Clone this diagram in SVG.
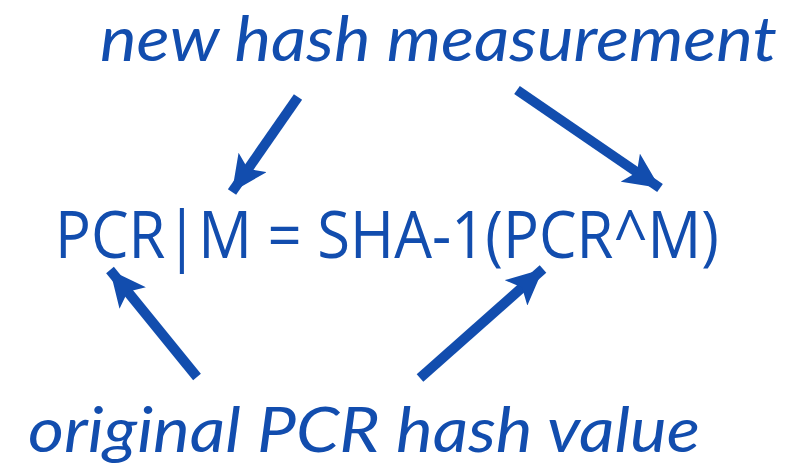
<svg xmlns="http://www.w3.org/2000/svg" width="796" height="468" viewBox="0 0 796 468">
<style>
text{font-family:Lato,"Open Sans",sans-serif;fill:#124dae}
.lbl{font-style:italic;font-size:62px}
.eq{font-family:"Open Sans",sans-serif;font-size:66px}
.arr{stroke:#124dae;stroke-width:10;fill:none}
</style>
<defs>
<marker id="ah" markerUnits="userSpaceOnUse" markerWidth="40" markerHeight="34" refX="36" refY="17" orient="auto">
<path d="M0,0 L36,17 L0,34 L8,17 Z" fill="#124dae"/>
</marker>
</defs>
<rect width="796" height="468" fill="#fff"/>
<g id="top-label"><text class="lbl" x="100" y="61" textLength="677" lengthAdjust="spacingAndGlyphs">new hash measurement</text></g>
<g id="formula"><text class="eq" x="55" y="258" textLength="664" lengthAdjust="spacingAndGlyphs">PCR|M = SHA-1(PCR^M)</text></g>
<g id="bottom-label"><text class="lbl" x="28" y="452" textLength="672" lengthAdjust="spacingAndGlyphs">original PCR hash value</text></g>
<g id="connectors">
<line class="arr" x1="298" y1="97" x2="232" y2="192" marker-end="url(#ah)"/>
<line class="arr" x1="517" y1="90" x2="660" y2="188" marker-end="url(#ah)"/>
<line class="arr" x1="197" y1="377" x2="110" y2="270" marker-end="url(#ah)"/>
<line class="arr" x1="420" y1="378" x2="543" y2="269" marker-end="url(#ah)"/>
</g>
</svg>
